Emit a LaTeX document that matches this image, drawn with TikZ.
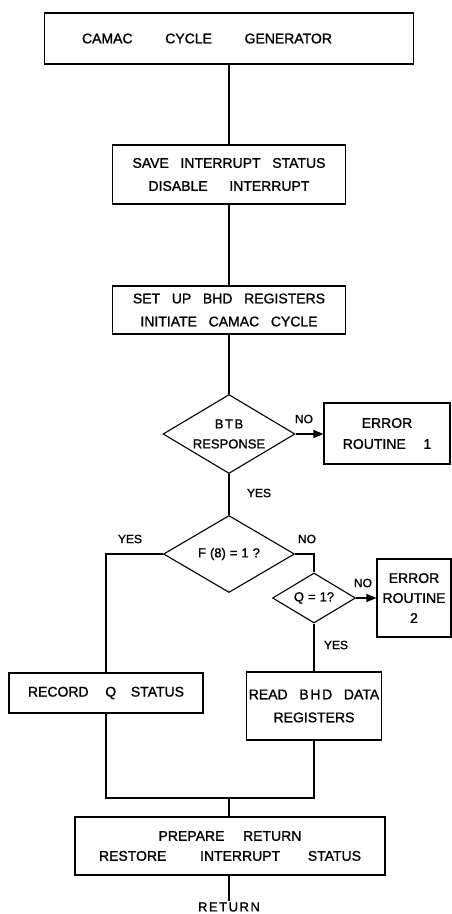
\documentclass[tikz,border=0pt]{standalone}
\usepackage{fontspec}
\newfontfamily\leroy[WordSpace=3,FakeBold=1.2]{Liberation Sans}
\newfontfamily\leroywide[LetterSpace=12,WordSpace=3,FakeBold=1.2]{Liberation Sans}
\newcommand{\gap}{\hspace{4pt}}
\usetikzlibrary{arrows.meta,positioning,shapes.geometric}

\begin{document}
\begin{tikzpicture}[
  x=1pt, y=-1pt,
  line width=1.1pt,
  box/.style={
    draw,
    align=center,
    inner sep=0pt,
    font=\leroy\fontsize{14}{23}\selectfont
  },
  decision/.style={
    draw,
    diamond,
    aspect=1.7,
    inner sep=0pt,
    align=center,
    font=\leroy\fontsize{13}{20}\selectfont
  },
  tag/.style={inner sep=1pt, font=\leroy\fontsize{12}{14}\selectfont},
  arrow/.style={-{Triangle[length=10pt,width=8pt]}}
]
  \useasboundingbox (0,0) rectangle (452,914);
  \node[box,minimum width=369pt,minimum height=51pt] (gen) at (229,38.5)
    {CAMAC\hspace{21pt} CYCLE\hspace{21pt} GENERATOR\hspace*{44pt}};
  \node[box,minimum width=233pt,minimum height=59pt] (save) at (229,174.5)
    {SAVE INTERRUPT STATUS\\DISABLE\hspace{10pt} INTERRUPT};
  \node[box,minimum width=233pt,minimum height=48pt] (setup) at (229,310)
    {SET UP BHD REGISTERS\\INITIATE CAMAC CYCLE};
  \node[decision,minimum width=132pt,minimum height=79pt] (btb) at (229,434)
    {{\leroywide BTB}\\RESPONSE};
  \node[box,minimum width=126pt,minimum height=61pt,
    font=\leroy\fontsize{14}{21}\selectfont] (err1) at (387,433.5)
    {ERROR\\ROUTINE\hspace{6pt} 1};
  \node[decision,minimum width=131pt,minimum height=77pt] (f8) at (229,554)
    {F\gap(8)\gap=\gap1\gap?};
  \node[decision,minimum width=83pt,minimum height=50pt] (q) at (314,598)
    {Q\gap=\gap1?};
  \node[box,minimum width=74pt,minimum height=78pt,
    font=\leroy\fontsize{14}{20}\selectfont] (err2) at (414,598)
    {ERROR\\ROUTINE\\2};
  \node[box,minimum width=194pt,minimum height=40pt] (record) at (106,693)
    {RECORD\hspace{5pt} Q\hspace{3pt} STATUS};
  \node[box,minimum width=135pt,minimum height=68pt] (read) at (314,706)
    {READ {\leroywide BHD} DATA\\REGISTERS};
  \node[box,minimum width=310pt,minimum height=58pt,
    font=\leroy\fontsize{14}{20}\selectfont] (prep) at (230,846)
    {PREPARE\hspace{7pt} RETURN\\RESTORE\hspace{22pt} INTERRUPT\hspace{16pt} STATUS};
  \node[tag,font=\leroywide\fontsize{13}{15}\selectfont] (ret) at (229,907) {RETURN};
  % branch labels
  \node[tag] (btbno) at (304,419) {NO};
  \node[tag] (btbyes) at (259,493) {YES};
  \node[tag] (f8yes) at (130,539) {YES};
  \node[tag] (f8no) at (307,539) {NO};
  \node[tag] (qno) at (363,583) {NO};
  \node[tag] (qyes) at (336,645) {YES};
  \coordinate (merge) at (229,798);

  \draw (gen) -- (save);
  \draw (save) -- (setup);
  \draw (setup) -- (btb);
  \draw[arrow] (btb.east) -- (err1.west |- btb.east);
  \draw (btb) -- (f8);
  \draw (f8.west) -| (record.north);
  \draw (f8.east) -| (q.north);
  \draw[arrow] (q.east) -- (err2.west |- q.east);
  \draw (q) -- (read);
  \draw (record.south) |- (merge) -| (read.south);
  \draw (merge) -- (merge |- prep.north);
  \draw (prep.south -| ret) -- (ret);
\end{tikzpicture}
\end{document}
